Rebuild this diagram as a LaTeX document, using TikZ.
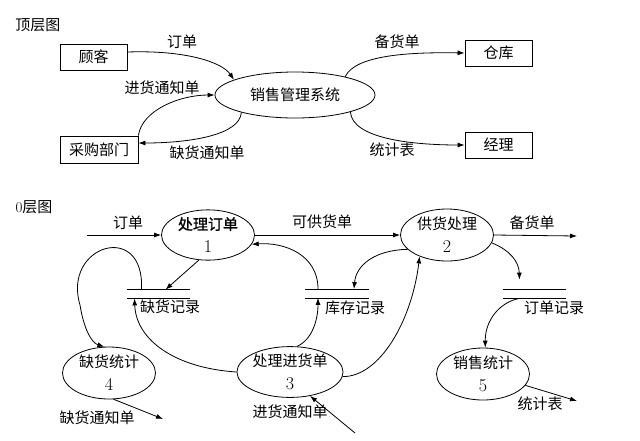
\documentclass[tikz,border=0pt]{standalone}
\usepackage{fontspec}
\newfontfamily\cjk{Noto Sans CJK SC}
\newfontfamily\cjkb[FakeBold=1.2]{Noto Sans CJK SC}
\newcommand{\dgt}[1]{{\rmfamily\fontsize{18}{23}\selectfont #1}}
\usetikzlibrary{shapes.geometric,arrows.meta}
\begin{document}
\begin{tikzpicture}[x=1pt,y=-1pt,line width=0.8pt,
  >={Latex[length=7pt,width=5pt]},
  txt/.style={font=\cjk\fontsize{15}{17}\selectfont, inner sep=0pt},
  box/.style={draw, rectangle, minimum width=67pt, minimum height=26pt, inner sep=0pt, font=\cjk\fontsize{15}{17}\selectfont},
  proc/.style={draw, ellipse, minimum width=93pt, minimum height=50pt, inner sep=0pt, align=center, font=\cjk\fontsize{15}{23}\selectfont},
  store/.style={minimum width=63pt, minimum height=8pt, inner sep=0pt}]
\useasboundingbox (0,0) rectangle (640,440);

% ---------- top level ----------
\node[txt] (t0) at (38,25) {顶层图};
\node[box] (gk) at (93.5,57) {顾客};
\node[box, minimum width=78pt, minimum height=27pt] (cg) at (99,149.5) {采购部门};
\node[draw, ellipse, minimum width=160pt, minimum height=46pt, inner sep=0pt, font=\cjk\fontsize{15}{17}\selectfont] (xs) at (295,95) {销售管理系统};
\node[box] (ck) at (498.5,53) {仓库};
\node[box] (jl) at (498.5,145) {经理};

\draw[->] ([yshift=5pt]gk.east) .. controls (185,50) and (222,62) .. (xs.166);
\draw[->] (cg.north east) .. controls (142,110) and (180,95) .. (xs.west);
\draw[->] (xs.198) .. controls (240,135) and (190,143) .. ([yshift=6.5pt]cg.east);
\draw[->] (xs.20) .. controls (355,55) and (410,52) .. (ck.west);
\draw[->] (xs.-17) .. controls (352,138) and (410,145) .. (jl.west);

\node[txt] (l1) at (182,42) {订单};
\node[txt] (l2) at (162,88) {进货通知单};
\node[txt] (l3) at (207,153) {缺货通知单};
\node[txt] (l4) at (397,42) {备货单};
\node[txt] (l5) at (392,150) {统计表};

% ---------- level 0 ----------
\node[txt] (t1) at (34,207) {{\rmfamily 0}层图};
\node[proc] (e1) at (208,235) {{\cjkb 处理订单}\\\dgt{1}};
\node[proc, minimum height=52pt] (e2) at (447,235) {供货处理\\\dgt{2}};
\node[proc, minimum height=48pt] (e3) at (290,372) {处理进货单\\\dgt{3}};
\node[proc, minimum height=52pt] (e4) at (109,373) {缺货统计\\\dgt{4}};
\node[proc, minimum height=52pt] (e5) at (483,374) {销售统计\\\dgt{5}};

\node[store] (s1) at (158.5,294) {};
\node[store] (s2) at (337,293.5) {};
\node[store] (s3) at (534.5,294) {};
\foreach \s in {s1,s2,s3}{
  \draw (\s.north west) -- (\s.north east);
  \draw (\s.south west) -- (\s.south east);
}
\node[txt] (sl1) at (170,307) {缺货记录};
\node[txt] (sl2) at (355,308) {库存记录};
\node[txt] (sl3) at (554,308) {订单记录};

\coordinate (cin) at (87,235);
\coordinate (cout) at (577,236);
\coordinate (c4) at (163,419);
\coordinate (c3) at (355,433);
\coordinate (c5) at (577,401);

\draw[->] (cin) -- (e1.west);
\draw[->] (e1.east) -- (e2.west);
\draw[->] (e2.east) -- (cout);
\draw[->] (e1.250) -- ([xshift=7pt]s1.north);
\draw[->] ([xshift=-19pt]s2.north) .. controls (318,255) and (285,242) .. (e1.-12);
\draw[->] (e2.200) .. controls (375,250) and (356,265) .. ([xshift=17pt]s2.north);
\draw[->] (e3.-5) .. controls (380,377) and (412,320) .. (e2.218);
\draw[->] (e3.75) .. controls (312,340) and (318,320) .. ([xshift=-19pt]s2.south);
\draw[->] (e3.west) .. controls (175,368) and (136,340) .. ([xshift=-24pt]s1.south);
\draw[->] ([xshift=-17pt]s1.north) .. controls (145,220) and (62,245) .. (80,305)
   .. controls (84,330) and (92,343) .. (e4.100);
\draw[->] (e4.-80) -- (c4);
\draw[->] (c3) -- (e3.-50);
\draw[->] (e2.-10) .. controls (510,250) and (519,262) .. ([xshift=-15pt,yshift=10pt]s3.north);
\draw[->] ([xshift=-15pt]s3.south) .. controls (500,302) and (485,320) .. (e5.85);
\draw[->] (e5.-15) -- (c5);

\node[txt] (m1) at (128,223) {订单};
\node[txt] (m2) at (322,222) {可供货单};
\node[txt] (m3) at (532,223) {备货单};
\node[txt] (m4) at (97,418) {缺货通知单};
\node[txt] (m5) at (290,412) {进货通知单};
\node[txt] (m6) at (540,404) {统计表};
\end{tikzpicture}
\end{document}
